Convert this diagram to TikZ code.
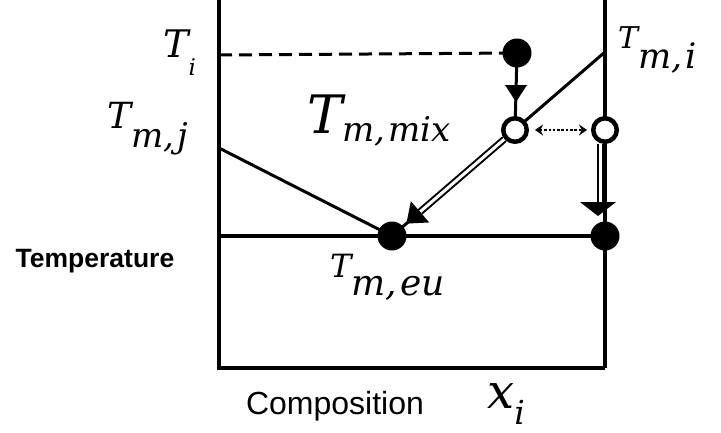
\documentclass[tikz,border=0pt]{standalone}
\usepackage{fontspec}
\setsansfont{Liberation Sans}
\newfontfamily\mathitfont{DejaVu Serif}
\usetikzlibrary{calc,arrows.meta,backgrounds}
\newcommand{\Tlab}[4]{{\fontsize{#1pt}{#1pt}\mathitfont\itshape T}\raisebox{-#3pt}{\fontsize{#2pt}{#2pt}\mathitfont\itshape #4}}
\newcommand{\cm}{,\kern3pt}
\begin{document}
\begin{tikzpicture}[x=1pt,y=-1pt,
  axisline/.style={line width=3.5pt},
  thinline/.style={line width=3pt},
  fdot/.style={circle, fill=black, inner sep=0pt, minimum size=29pt},
  odot/.style={circle, draw=black, line width=4.5pt, fill=white, inner sep=0pt, minimum size=23.5pt},
  lbl/.style={anchor=base west, inner sep=0pt},
  dbl/.style={double=white, double distance=3pt, line width=2pt},
  dotarrow/.style={line width=2.5pt, dash pattern=on 2.5pt off 1.8pt, {Stealth[length=8pt,width=11pt]}-{Stealth[length=8pt,width=11pt]}},
  txt/.style={font=\sffamily\fontsize{32pt}{36pt}\selectfont, anchor=base, inner sep=0pt}
]
\useasboundingbox (0,0) rectangle (721,432);

% points on the axes
\coordinate (LT) at (219,0);
\coordinate (O) at (219,368);
\coordinate (RB) at (605,368);
\coordinate (RT) at (605,0);
\coordinate (tiL) at (219,55);
\coordinate (tmj) at (219,148);
\coordinate (tmi) at (605,52);
\coordinate (euL) at (219,236);

% markers
\node[fdot] (ti) at (517,53) {};
\node[odot] (mix) at (515,130) {};
\node[odot] (mixr) at (605,130) {};
\node[fdot] (eu) at (392,236) {};
\node[fdot] (eur) at (605,236) {};

\begin{pgfonlayer}{background}
  \draw[axisline] (LT) -- (O) -- (RB);
  \draw[axisline] (RT) -- (RB);
  \draw[thinline, dash pattern=on 13pt off 7pt] (tiL) -- (ti.center);
  \draw[axisline] (euL) -- (eur.center);
  \draw[thinline] (tmi) -- (eu.center);
  \draw[thinline] (tmj) -- (eu.center);
  \draw[thinline] (ti.center) -- (mix.center);
\end{pgfonlayer}

% vertical arrow head between Ti dot and mix circle
\coordinate (h1) at (516,102);
\fill (h1) -- ++(-11,-17) -- ++(22,0) -- cycle;

% double arrow from mix circle to eutectic
\coordinate (dtip) at ($(eu)!19pt!(mix)$);
\coordinate (dbase) at ($(eu)!37pt!(mix)$);
\draw[dbl] (mix) -- (dbase);
\fill (dtip) -- ($(dbase)!14pt!90:(dtip)$) -- ($(dbase)!14pt!-90:(dtip)$) -- cycle;

% double arrow on the right
\coordinate (rbase) at (600.5,202);
\draw[dbl] ([xshift=-4.5pt]mixr.south) -- (rbase);
\coordinate (rtip) at (598,216);
\fill (rtip) -- (580,202) -- (616,202) -- cycle;

% dotted two-way arrow
\draw[dotarrow, shorten <=6pt, shorten >=4pt] (mix) -- (mixr);

% labels
\node[lbl] (lti) at (163,57) {\Tlab{38}{23}{18}{i}};
\node[lbl] (ltmj) at (107,128) {\Tlab{36}{34}{19}{m\cm j}};
\node[lbl] (ltmi) at (618,48) {\Tlab{30}{35}{20}{m\cm i}};
\node[lbl] (ltmix) at (307,133) {\Tlab{53}{34}{8}{m\cm mix}};
\node[lbl] (ltmeu) at (330,277) {\Tlab{32}{36}{18}{m\cm eu}};
\node[lbl] (lxi) at (487,408) {{\fontsize{48pt}{48pt}\mathitfont\itshape x}\raisebox{-16pt}{\fontsize{33pt}{33pt}\mathitfont\itshape i}};

\node[txt, font=\sffamily\bfseries\fontsize{26.5pt}{30pt}\selectfont] (temp) at (95,267) {Temperature};
\node[txt] (comp) at (335,414) {Composition};
\end{tikzpicture}
\end{document}
